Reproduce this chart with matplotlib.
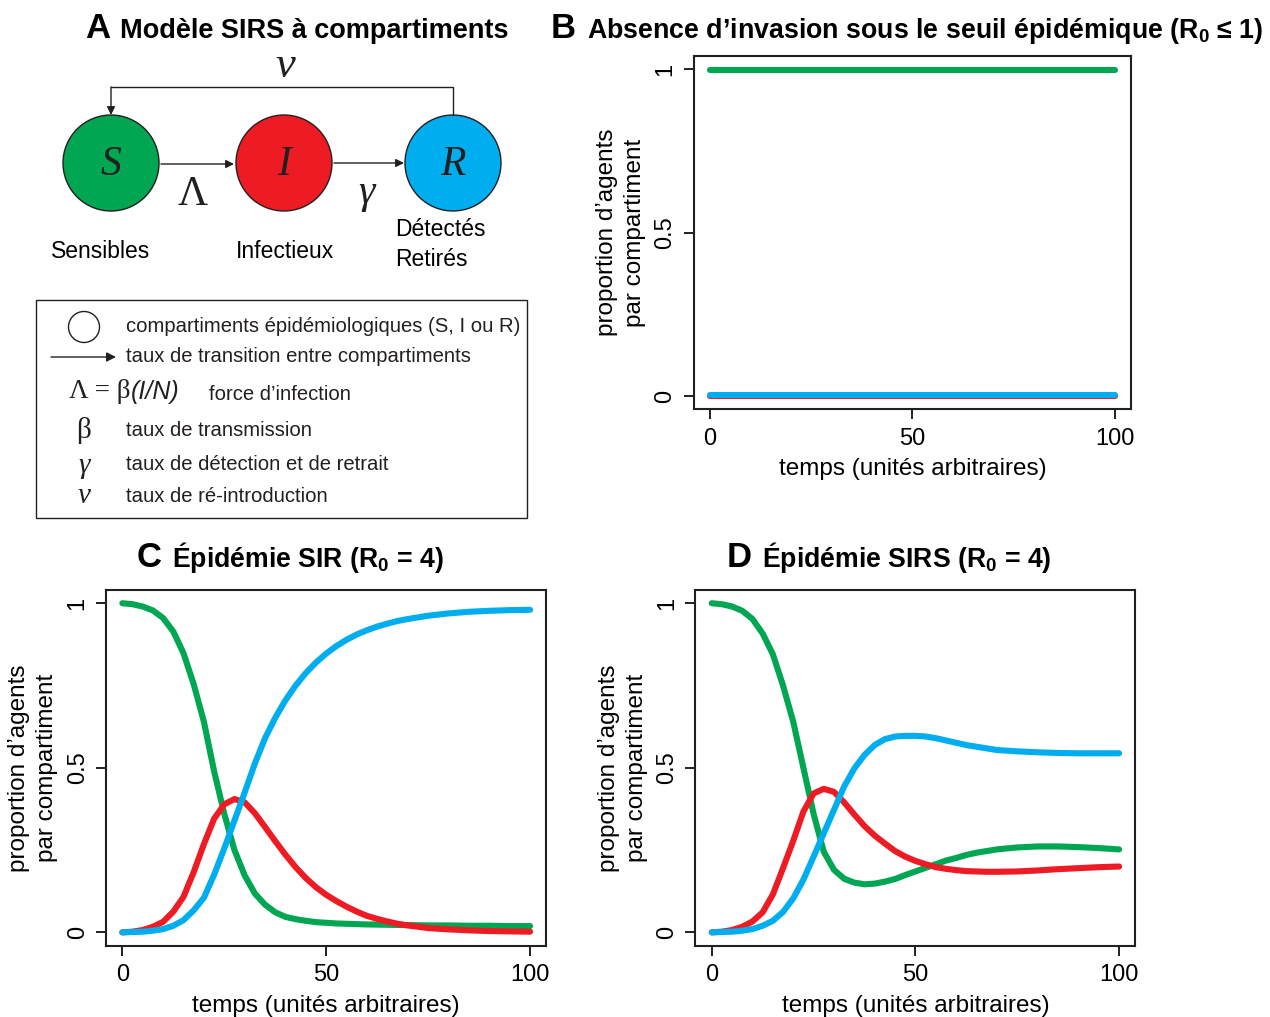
import matplotlib
matplotlib.use("Agg")
import matplotlib.pyplot as plt
from matplotlib.patches import Circle, Rectangle

plt.rcParams['font.family'] = ['Liberation Sans', 'DejaVu Sans']
plt.rcParams['mathtext.fontset'] = 'custom'
plt.rcParams['mathtext.rm'] = 'Liberation Sans'
plt.rcParams['mathtext.bf'] = 'Liberation Sans:bold'
plt.rcParams['mathtext.it'] = 'Liberation Sans:italic'

VERT = '#00A651'
ROUGE = '#ED1C24'
BLEU = '#00AEEF'
ENCRE = '#231F20'

# temps de simulation
temps = [0, 2.5, 5, 7.5, 10, 12.5, 15, 17.5, 20, 22.5, 25, 27.5, 30, 32.5, 35,
         37.5, 40, 42.5, 45, 47.5, 50, 52.5, 55, 57.5, 60, 62.5, 65, 67.5, 70,
         75, 80, 85, 90, 95, 100]

# B : sous le seuil
temps_b = [0, 50, 100]
s_b = [0.998, 0.998, 0.998]
i_b = [0.0, 0.0, 0.0]
r_b = [0.003, 0.003, 0.003]

# C : SIR, R0 = 4
s_sir = [1.0, 0.997, 0.99, 0.978, 0.955, 0.914, 0.848, 0.754, 0.64, 0.49,
         0.36, 0.25, 0.173, 0.118, 0.084, 0.061, 0.047, 0.04, 0.035, 0.031,
         0.029, 0.027, 0.026, 0.025, 0.024, 0.0235, 0.023, 0.0225, 0.022,
         0.021, 0.021, 0.02, 0.02, 0.019, 0.019]
i_sir = [0.0, 0.002, 0.007, 0.017, 0.032, 0.063, 0.108, 0.183, 0.268, 0.345,
         0.389, 0.405, 0.395, 0.362, 0.32, 0.277, 0.236, 0.198, 0.165, 0.137,
         0.114, 0.095, 0.078, 0.063, 0.05, 0.041, 0.033, 0.026, 0.021,
         0.013, 0.009, 0.006, 0.004, 0.003, 0.002]
r_sir = [0.0, 0.001, 0.002, 0.005, 0.01, 0.02, 0.037, 0.067, 0.105, 0.175,
         0.255, 0.34, 0.425, 0.513, 0.59, 0.652, 0.705, 0.75, 0.788, 0.82,
         0.847, 0.87, 0.889, 0.905, 0.918, 0.929, 0.938, 0.946, 0.952,
         0.962, 0.969, 0.974, 0.977, 0.979, 0.98]

# D : SIRS, R0 = 4
s_sirs = [1.0, 0.997, 0.99, 0.977, 0.952, 0.908, 0.845, 0.75, 0.64, 0.5,
          0.36, 0.245, 0.19, 0.163, 0.151, 0.146, 0.148, 0.154, 0.162, 0.174,
          0.185, 0.196, 0.207, 0.218, 0.226, 0.235, 0.242, 0.247, 0.252,
          0.258, 0.261, 0.261, 0.259, 0.256, 0.252]
i_sirs = [0.0, 0.002, 0.007, 0.017, 0.033, 0.061, 0.115, 0.195, 0.278, 0.367,
          0.422, 0.436, 0.427, 0.395, 0.358, 0.323, 0.294, 0.27, 0.247, 0.23,
          0.217, 0.207, 0.198, 0.193, 0.189, 0.186, 0.185, 0.184, 0.184,
          0.185, 0.188, 0.192, 0.195, 0.198, 0.2]
r_sirs = [0.0, 0.001, 0.002, 0.005, 0.01, 0.02, 0.035, 0.062, 0.103, 0.16,
          0.23, 0.301, 0.372, 0.443, 0.498, 0.539, 0.569, 0.587, 0.595, 0.597,
          0.597, 0.595, 0.59, 0.583, 0.576, 0.569, 0.564, 0.559, 0.554,
          0.55, 0.547, 0.545, 0.544, 0.544, 0.544]

fig = plt.figure(figsize=(12.7, 10.17), dpi=100)

# calque en pixels pour le schema, la legende et les titres
ax0 = fig.add_axes([0, 0, 1, 1])
ax0.set_xlim(0, 1270)
ax0.set_ylim(1017, 0)
ax0.axis('off')


def panneau(rect, t, s, i, r):
    ax = fig.add_axes(rect)
    for y, c in ((s, VERT), (i, ROUGE), (r, BLEU)):
        ax.plot(t, y, color=c, lw=4.4, solid_capstyle='round',
                solid_joinstyle='round')
    ax.set_xlim(-4, 104)
    ax.set_ylim(-0.04, 1.04)
    ax.set_xticks([0, 50, 100])
    ax.set_yticks([0, 0.5, 1])
    ax.set_yticklabels(['0', '0.5', '1'])
    ax.tick_params(direction='out', length=7.5, width=1.4, labelsize=17,
                   color=ENCRE)
    ax.tick_params(axis='x', pad=6)
    ax.tick_params(axis='y', labelrotation=90, pad=5)
    for lab in ax.get_yticklabels():
        lab.set_va('center')
    for sp in ax.spines.values():
        sp.set_linewidth(1.5)
        sp.set_color(ENCRE)
    ax.set_xlabel('temps (unités arbitraires)', fontsize=17.5, labelpad=6)
    ax.set_ylabel('proportion d’agents\npar compartiment', fontsize=17.5,
                  labelpad=6, linespacing=1.35)
    return ax


panneau([0.5463, 0.5977, 0.3444, 0.3473], temps_b, s_b, i_b, r_b)
panneau([0.0835, 0.0703, 0.3467, 0.3495], temps, s_sir, i_sir, r_sir)
panneau([0.5476, 0.0703, 0.3464, 0.3495], temps, s_sirs, i_sirs, r_sirs)

# titres
titres = [(85, 38, 120, 19.5, 'A', 'Modèle SIRS à compartiments'),
          (551, 38, 587, 19.3, 'B',
           r'Absence d’invasion sous le seuil épidémique (R$_\mathbf{0}$ ≤ 1)'),
          (137, 567, 172, 19.2, 'C', r'Épidémie SIR (R$_\mathbf{0}$ = 4)'),
          (727, 567, 762, 19.2, 'D', r'Épidémie SIRS (R$_\mathbf{0}$ = 4)')]
for xl, yb, xt, taille, lettre, texte in titres:
    ax0.text(xl, yb, lettre, fontsize=25, fontweight='bold', va='baseline',
             ha='left')
    ax0.text(xt, yb, texte, fontsize=taille, fontweight='bold',
             va='baseline', ha='left')

# schema SIRS
rayon = 48
for cx, coul, nom in ((111, VERT, 'S'), (284, ROUGE, 'I'), (453, BLEU, 'R')):
    ax0.add_patch(Circle((cx, 163), rayon, facecolor=coul, edgecolor=ENCRE,
                         lw=1.0))
    ax0.text(cx, 165, nom, fontsize=30, family='Liberation Serif',
             style='italic', ha='center', va='center', color=ENCRE)

fleche = dict(arrowstyle='-|>', color=ENCRE, lw=1.0, mutation_scale=12,
              shrinkA=0, shrinkB=0)
ax0.annotate('', xy=(234, 164), xytext=(161, 164), arrowprops=fleche)
ax0.annotate('', xy=(404, 163), xytext=(334, 163), arrowprops=fleche)
ax0.plot([453, 453, 111], [115, 87, 87], color=ENCRE, lw=1.0)
ax0.annotate('', xy=(111, 115), xytext=(111, 87), arrowprops=fleche)

ax0.text(193, 195, 'Λ', fontsize=30, family='Liberation Serif', ha='center',
         va='center', color=ENCRE)
ax0.text(366, 193, 'γ', fontsize=30, family='Liberation Serif',
         style='italic', ha='center', va='center', color=ENCRE)
ax0.text(285, 66, 'ν', fontsize=32, family='Liberation Serif',
         style='italic', ha='center', va='center', color=ENCRE)

ax0.text(101, 252, 'Sensibles', fontsize=16.5, ha='center', va='center')
ax0.text(285, 252, 'Infectieux', fontsize=16.5, ha='center', va='center')
ax0.text(395, 230, 'Détectés', fontsize=16.5, ha='left', va='center')
ax0.text(395, 259, 'Retirés', fontsize=16.5, ha='left', va='center')

# encadre de legende
ax0.add_patch(Rectangle((36, 300), 491, 218, facecolor='none',
                        edgecolor=ENCRE, lw=1.0))
ax0.add_patch(Circle((84, 327), 15.5, facecolor='none', edgecolor=ENCRE,
                     lw=1.0))
ax0.annotate('', xy=(116, 357), xytext=(51, 357),
             arrowprops=dict(arrowstyle='-|>', color=ENCRE, lw=1.0,
                             mutation_scale=14, shrinkA=0, shrinkB=0))
ax0.text(69, 392, 'Λ = β', fontsize=19.5, family='Liberation Serif',
         ha='left', va='center', color=ENCRE)
ax0.text(131, 392, '(I/N)', fontsize=18, style='italic', ha='left',
         va='center', color=ENCRE)
for y, sym, sty in ((430, 'β', 'normal'), (466, 'γ', 'italic'),
                    (496, 'ν', 'italic')):
    ax0.text(84, y, sym, fontsize=21, family='Liberation Serif', style=sty,
             ha='center', va='center', color=ENCRE)

lignes = [(126, 326, 'compartiments épidémiologiques (S, I ou R)'),
          (126, 357, 'taux de transition entre compartiments'),
          (209, 394, 'force d’infection'),
          (126, 431, 'taux de transmission'),
          (126, 465, 'taux de détection et de retrait'),
          (126, 496, 'taux de ré-introduction')]
for x, y, txt in lignes:
    ax0.text(x, y, txt, fontsize=14.6, ha='left', va='center', color=ENCRE)

fig.savefig('out.png', dpi=100)
